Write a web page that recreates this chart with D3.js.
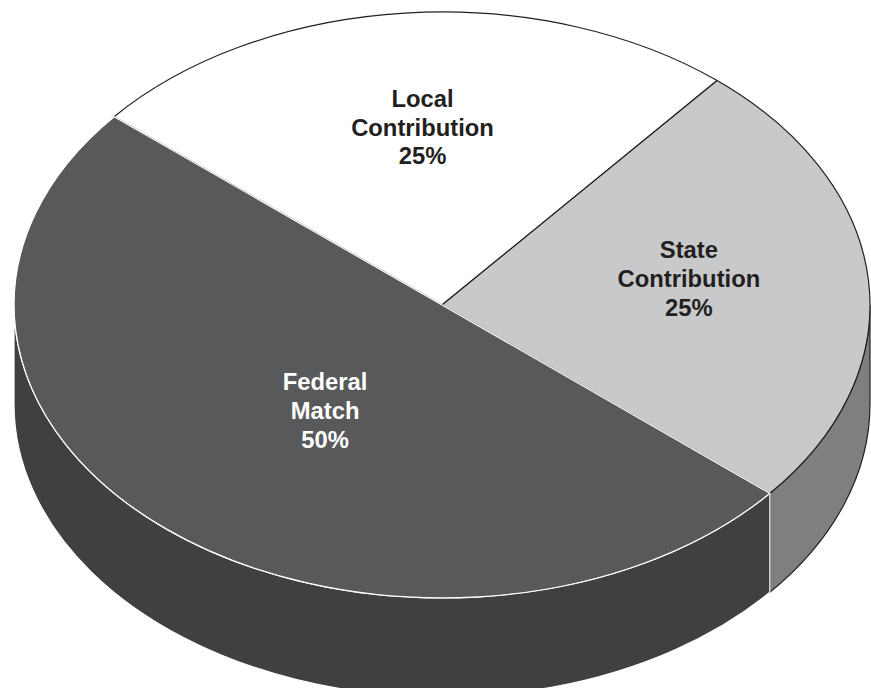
<!DOCTYPE html>
<html>
<head>
<meta charset="utf-8">
<script src="https://cdn.jsdelivr.net/npm/d3@7"></script>
<style>
  html, body { margin: 0; padding: 0; background: #ffffff; }
  svg { display: block; }
</style>
</head>
<body>
<div id="chart"></div>
<script>
// Funding shares
const categories = ["Local Contribution", "State Contribution", "Federal Match"];
const shares = [25, 25, 50];

// Appearance per slice
const topColors = ["#ffffff", "#c8c9cb", "#58595b"];
const sideColors = ["#e6e6e6", "#7e7f81", "#404042"];
const edgeColors = ["#231f20", "#231f20", "#ffffff"];
const textColors = ["#231f20", "#231f20", "#ffffff"];
// label placement: fraction of radius and angular nudge (degrees)
const labelRadius = [0.58, 0.58, 0.476];
const labelNudge = [0.5, -1, -5];

const W = 871, H = 691;
const cx = 442, cy = 305, rx = 428, ry = 293, depth = 99;

const svg = d3.select("#chart").append("svg")
  .attr("width", W).attr("height", H);

svg.append("defs").append("clipPath").attr("id", "frame")
  .append("rect").attr("x", 0).attr("y", 0).attr("width", W).attr("height", 688);

const g = svg.append("g").attr("clip-path", "url(#frame)");

// d3.pie measures from 12 o'clock; the first slice begins at 310deg in that frame
const start = 310 * Math.PI / 180;
const pie = d3.pie().sort(null).value(d => d.v)
  .startAngle(start).endAngle(start + 2 * Math.PI);
const arcs = pie(categories.map((c, i) => ({ c, v: shares[i], i })));

// convert to screen parametric angle (from 3 o'clock, clockwise, degrees)
const toT = a => a * 180 / Math.PI - 90;
const pt = (t, dy = 0) => {
  const r = t * Math.PI / 180;
  return [cx + rx * Math.cos(r), cy + ry * Math.sin(r) + dy];
};

// visible (front) portions of each slice's rim
function frontSpans(t0, t1) {
  const out = [];
  let a = ((t0 % 360) + 360) % 360;
  let b = a + (t1 - t0);
  [[0, 180], [360, 540]].forEach(([lo, hi]) => {
    const s = Math.max(a, lo), e = Math.min(b, hi);
    if (e > s + 1e-6) out.push([s, e]);
  });
  return out;
}

function sidePath(s, e) {
  const p0 = pt(s), p1 = pt(e), q1 = pt(e, depth), q0 = pt(s, depth);
  const large = (e - s) > 180 ? 1 : 0;
  return `M${p0}A${rx},${ry} 0 ${large} 1 ${p1}L${q1}A${rx},${ry} 0 ${large} 0 ${q0}Z`;
}

function topPath(t0, t1) {
  const p0 = pt(t0), p1 = pt(t1);
  const large = (t1 - t0) > 180.001 ? 1 : 0;
  return `M${cx},${cy}L${p0}A${rx},${ry} 0 ${large} 1 ${p1}Z`;
}

// draw order: light slices first so the dark slice's white edges sit on top
const order = [1, 0, 2];

const sides = g.append("g");
order.forEach(i => {
  const d = arcs[i];
  frontSpans(toT(d.startAngle), toT(d.endAngle)).forEach(([s, e]) => {
    sides.append("path")
      .attr("d", sidePath(s, e))
      .attr("fill", sideColors[i])
      .attr("stroke", edgeColors[i])
      .attr("stroke-width", 1.2)
      .attr("stroke-linejoin", "round");
  });
});

const tops = g.append("g");
[0, 1, 2].forEach(i => {
  const d = arcs[i];
  tops.append("path")
    .attr("d", topPath(toT(d.startAngle), toT(d.endAngle)))
    .attr("fill", topColors[i])
    .attr("stroke", edgeColors[i])
    .attr("stroke-width", 1.2)
    .attr("stroke-linejoin", "round");
});

// labels
const labels = g.append("g")
  .attr("font-family", "'Liberation Sans', Arial, Helvetica, sans-serif")
  .attr("font-weight", "bold")
  .attr("font-size", 23.8)
  .attr("text-anchor", "middle");

arcs.forEach((d, i) => {
  const tm = (toT(d.startAngle) + toT(d.endAngle)) / 2 + labelNudge[i];
  const r = tm * Math.PI / 180;
  const x = cx + rx * labelRadius[i] * Math.cos(r);
  const y = cy + ry * labelRadius[i] * Math.sin(r);
  const lines = categories[i].split(" ").concat([shares[i] + "%"]);
  const text = labels.append("text").attr("fill", textColors[i]);
  lines.forEach((ln, k) => {
    text.append("tspan")
      .attr("x", x)
      .attr("y", y + (k - 1) * 28.8)
      .text(ln);
  });
});
</script>
</body>
</html>
